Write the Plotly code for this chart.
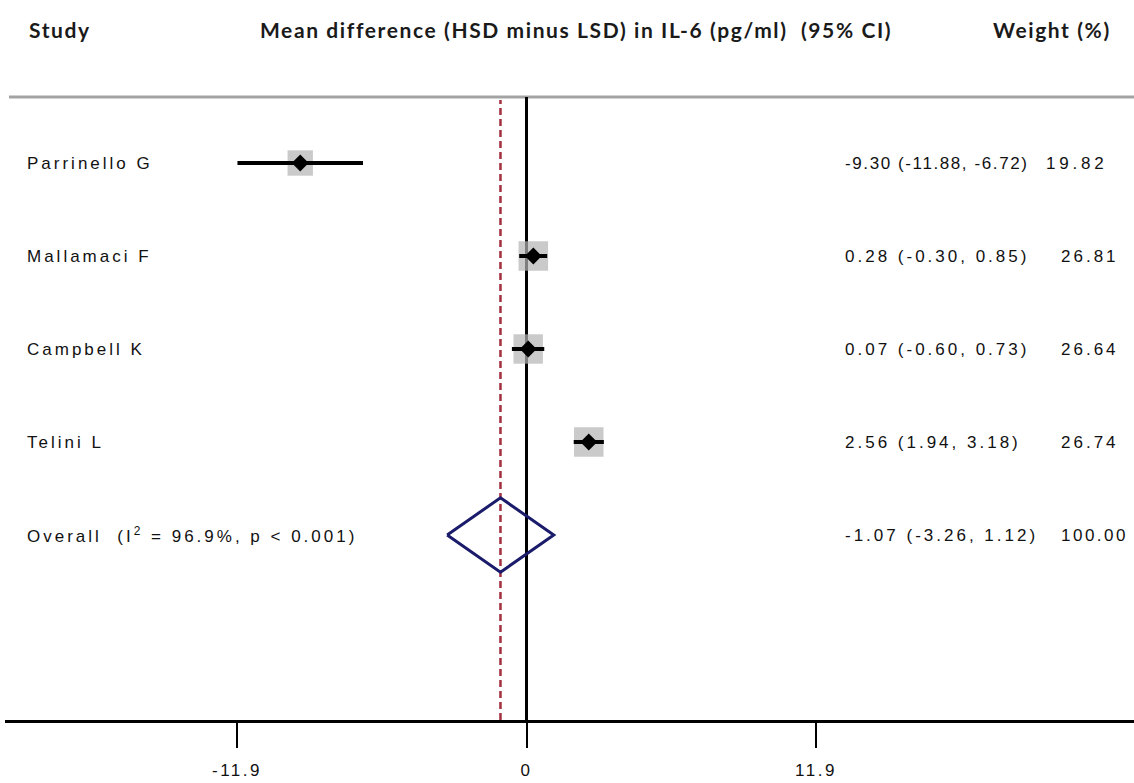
import plotly.graph_objects as go

# ---------------- data ----------------
studies = ["Parrinello G", "Mallamaci F", "Campbell K", "Telini L"]
est = [-9.30, 0.28, 0.07, 2.56]
lci = [-11.88, -0.30, -0.60, 1.94]
uci = [-6.72, 0.85, 0.73, 3.18]
weights = [19.82, 26.81, 26.64, 26.74]

overall_est = -1.07
overall_lci = -3.26
overall_uci = 1.12
overall_weight = 100.00
i2 = 96.9
p_text = "p < 0.001"

tick_vals = [-11.9, 0, 11.9]
tick_text = ["-11.9", "0", "11.9"]

header_study = "Study"
header_effect = "Mean difference (HSD minus LSD) in IL-6 (pg/ml)  (95% CI)"
header_weight = "Weight (%)"

# ---------------- layout helpers ----------------
W, H = 1134, 783
ML, MB = 5, 63
PW = W - ML
PH = H - MB
ROW0_PX, ROW_STEP = 163, 93.0
ZERO_PX, UNIT_PX = 526.5, 24.33


def px2paper_x(px):
    return (px - ML) / PW


def px2paper_y(py):
    return 1 - py / PH


def ls(text, sp=3.0):
    return f'<span style="letter-spacing:{sp}px">{text}</span>'


xr = [(ML - ZERO_PX) / UNIT_PX, (W - ZERO_PX) / UNIT_PX]
yr = [(PH - ROW0_PX) / ROW_STEP, (0 - ROW0_PX) / ROW_STEP]

rows = list(range(len(studies)))
overall_row = len(studies)

body_font = dict(family="Liberation Sans, Arial", size=17, color="#111111")
head_font = dict(family="Lato", size=21, color="#1a1a1a")

fig = go.Figure()

# study weight squares
fig.add_trace(go.Scatter(
    x=est, y=rows, mode="markers",
    marker=dict(symbol="square", color="#b3b3b3",
                size=[5.7 * w ** 0.5 for w in weights], line=dict(width=0)),
    hoverinfo="skip", showlegend=False))

# confidence interval lines
ci_x, ci_y = [], []
for r, l, u in zip(rows, lci, uci):
    ci_x += [l, u, None]
    ci_y += [r, r, None]
fig.add_trace(go.Scatter(x=ci_x, y=ci_y, mode="lines",
                         line=dict(color="black", width=4),
                         hoverinfo="skip", showlegend=False))

# point estimates
fig.add_trace(go.Scatter(x=est, y=rows, mode="markers",
                         marker=dict(symbol="diamond", color="black", size=13),
                         hoverinfo="skip", showlegend=False))

# overall diamond
hh = 0.40
fig.add_trace(go.Scatter(
    x=[overall_lci, overall_est, overall_uci, overall_est, overall_lci],
    y=[overall_row, overall_row - hh, overall_row, overall_row + hh, overall_row],
    mode="lines", line=dict(color="#1b1b6b", width=3),
    hoverinfo="skip", showlegend=False))

top_line = px2paper_y(97)
shapes = [
    dict(type="line", xref="paper", yref="paper", x0=px2paper_x(9), x1=1,
         y0=top_line, y1=top_line, line=dict(color="#a3a3a3", width=3), layer="below"),
    dict(type="line", xref="x", yref="paper", x0=0, x1=0, y0=0, y1=top_line,
         line=dict(color="black", width=3), layer="below"),
    dict(type="line", xref="x", yref="paper", x0=overall_est, x1=overall_est,
         y0=0, y1=top_line - 0.004,
         line=dict(color="#a3303f", width=2.5, dash="7px,4px"), layer="below"),
]

annotations = []
# headers
head_y = px2paper_y(30)
for txt, px in [(header_study, 27), (header_effect, 258), (header_weight, 991)]:
    annotations.append(dict(text=f"<b>{ls(txt, 1.6)}</b>", xref="paper", yref="paper",
                            x=px2paper_x(px), y=head_y, xanchor="left", yanchor="middle",
                            showarrow=False, font=head_font))

# per-row text fitting (the first row's column text is squeezed in the original)
ci_spacing = [1.6, 3.0, 3.0, 3.0]
weight_px = [1044, 1059, 1059, 1059]
weight_spacing = [3.8, 3.0, 3.0, 3.0]
for r, name, e, l, u, w, wpx, cs, wsp in zip(rows, studies, est, lci, uci, weights,
                                             weight_px, ci_spacing, weight_spacing):
    annotations.append(dict(text=ls(name), xref="paper", yref="y", x=px2paper_x(25), y=r,
                            xanchor="left", yanchor="middle", showarrow=False, font=body_font))
    annotations.append(dict(text=ls(f"{e:.2f} ({l:.2f}, {u:.2f})", cs), xref="paper", yref="y",
                            x=px2paper_x(843), y=r, xanchor="left", yanchor="middle",
                            showarrow=False, font=body_font))
    annotations.append(dict(text=ls(f"{w:.2f}", wsp), xref="paper", yref="y",
                            x=px2paper_x(wpx), y=r, xanchor="left", yanchor="middle",
                            showarrow=False, font=body_font))

annotations.append(dict(text=ls(f"Overall  (I<sup>2</sup> = {i2:.1f}%, {p_text})"),
                        xref="paper", yref="y", x=px2paper_x(25), y=overall_row,
                        xanchor="left", yanchor="middle", showarrow=False, font=body_font))
annotations.append(dict(text=ls(f"{overall_est:.2f} ({overall_lci:.2f}, {overall_uci:.2f})"),
                        xref="paper", yref="y", x=px2paper_x(843), y=overall_row,
                        xanchor="left", yanchor="middle", showarrow=False, font=body_font))
annotations.append(dict(text=ls(f"{overall_weight:.2f}", 2.5), xref="paper", yref="y",
                        x=px2paper_x(1059), y=overall_row, xanchor="left", yanchor="middle",
                        showarrow=False, font=body_font))

fig.update_layout(
    width=W, height=H,
    margin=dict(l=ML, r=0, t=0, b=MB),
    paper_bgcolor="white", plot_bgcolor="white",
    shapes=shapes, annotations=annotations,
    xaxis=dict(range=xr, showgrid=False, zeroline=False, showline=True,
               linecolor="black", linewidth=3, ticks="outside", ticklen=25,
               tickwidth=2, tickcolor="black", tickvals=tick_vals,
               ticktext=[ls(t, 2.5) for t in tick_text], tickfont=body_font,
               ticklabelstandoff=8, fixedrange=True),
    yaxis=dict(range=yr, visible=False, fixedrange=True),
)

fig.write_html("out.html")
